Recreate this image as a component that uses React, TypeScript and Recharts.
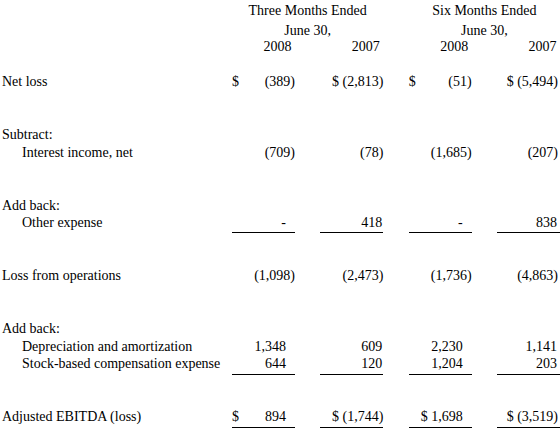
import React from 'react';
import { ScatterChart, Scatter, XAxis, YAxis } from 'recharts';

// table text and values (in thousands)
const PERIODS = ['Three Months Ended', 'Six Months Ended'];
const PERIOD_DATE = 'June 30,';
const YEARS = ['2008', '2007', '2008', '2007'];

const ROW_LABELS = [
  'Net loss',
  'Subtract:',
  'Interest income, net',
  'Add back:',
  'Other expense',
  'Loss from operations',
  'Add back:',
  'Depreciation and amortization',
  'Stock-based compensation expense',
  'Adjusted EBITDA (loss)',
];

// null = heading row without numbers, 0 = shown as a dash
const Q2_2008 = [-389, null, -709, null, 0, -1098, null, 1348, 644, 894];
const Q2_2007 = [-2813, null, -78, null, 418, -2473, null, 609, 120, -1744];
const H1_2008 = [-51, null, -1685, null, 0, -1736, null, 2230, 1204, 1698];
const H1_2007 = [-5494, null, -207, null, 838, -4863, null, 1141, 203, -3519];
const COLUMNS = [Q2_2008, Q2_2007, H1_2008, H1_2007];

// layout: text line of every row, indent, rules and dollar signs
const ROW_LINE = [4, 7, 8, 11, 12, 15, 18, 19, 20, 23];
const HEADER_LINE = [0, 1.1, 2.0];
const ROW_INDENT = [0, 0, 1, 0, 1, 0, 0, 1, 1, 0];
const UNDERLINED = [4, 8, 9];
const DOLLARS: Record<number, string[]> = {
  0: ['edge', 'inline', 'edge', 'inline'],
  9: ['edge', 'inline', 'inline', 'inline'],
};
const POS_PAD = [9, 1, 9, 3];
const NEG_PAD = [0, 0, 0, 2];
const HALF = 31.5;

const FONT = "'Liberation Serif', 'Times New Roman', serif";
const FONT_SIZE = 14;

const fmt = (n: number) => {
  if (n === 0) return '-';
  const s = Math.abs(n).toLocaleString('en-US');
  return n < 0 ? `(${s})` : s;
};

const textProps = { fontFamily: FONT, fontSize: FONT_SIZE, fill: '#000' };

const ValueCell = (props: any) => {
  const { cx, cy, payload } = props;
  const { col, value, row } = payload;
  const right = cx + HALF - (value < 0 ? NEG_PAD[col] : POS_PAD[col]);
  const dollar = DOLLARS[row] ? DOLLARS[row][col] : null;
  const text = dollar === 'inline' ? `$ ${fmt(value)}` : fmt(value);
  const ruleY = row === 4 ? cy + 5.5 : cy + 6.5;
  return (
    <g>
      {dollar === 'edge' && (
        <text x={cx - HALF} y={cy} textAnchor="start" {...textProps}>
          $
        </text>
      )}
      <text x={right} y={cy} textAnchor="end" xmlSpace="preserve" {...textProps}>
        {text}
      </text>
      {UNDERLINED.includes(row) && (
        <line x1={cx - HALF} x2={cx + HALF} y1={ruleY} y2={ruleY} stroke="#000" strokeWidth={1} shapeRendering="crispEdges" />
      )}
    </g>
  );
};

const HeaderCell = (props: any) => {
  const { cx, cy, payload } = props;
  if (payload.kind === 'year') {
    return (
      <text x={cx + 28} y={cy} textAnchor="end" {...textProps}>
        {payload.text}
      </text>
    );
  }
  return (
    <text x={cx} y={cy} textAnchor="middle" {...textProps}>
      {payload.text}
    </text>
  );
};

const RowLabel = (props: any) => {
  const { y, payload } = props;
  const r = ROW_LINE.indexOf(payload.value);
  if (r < 0) return null;
  return (
    <text x={2 + ROW_INDENT[r] * 20} y={y} textAnchor="start" {...textProps}>
      {ROW_LABELS[r]}
    </text>
  );
};

const headerData = [
  ...PERIODS.flatMap((p, i) => [
    { col: i * 2 + 0.5, line: HEADER_LINE[0], text: p, kind: 'period' },
    { col: i * 2 + 0.5, line: HEADER_LINE[1], text: PERIOD_DATE, kind: 'period' },
  ]),
  ...YEARS.map((y, i) => ({ col: i, line: HEADER_LINE[2], text: y, kind: 'year' })),
];

const columnData = COLUMNS.map((vals, c) =>
  vals
    .map((v, r) => ({ col: c, line: ROW_LINE[r], value: v, row: r }))
    .filter((d) => d.value !== null)
);

export default function App() {
  return (
    <div style={{ width: 560, height: 429, background: '#fff' }}>
      <style>{'body{margin:0}'}</style>
      <ScatterChart width={560} height={429} margin={{ top: 15.4, right: 31.5, bottom: 7.6, left: 0 }}>
        <XAxis type="number" dataKey="col" domain={[0, 3]} hide />
        <YAxis
          type="number"
          dataKey="line"
          domain={[0, 23]}
          reversed
          width={263.5}
          ticks={ROW_LINE}
          interval={0}
          axisLine={false}
          tickLine={false}
          tick={<RowLabel />}
        />
        <Scatter data={headerData} shape={(p: any) => <HeaderCell {...p} />} isAnimationActive={false} />
        {columnData.map((d, c) => (
          <Scatter key={c} data={d} shape={(p: any) => <ValueCell {...p} />} isAnimationActive={false} />
        ))}
      </ScatterChart>
    </div>
  );
}
